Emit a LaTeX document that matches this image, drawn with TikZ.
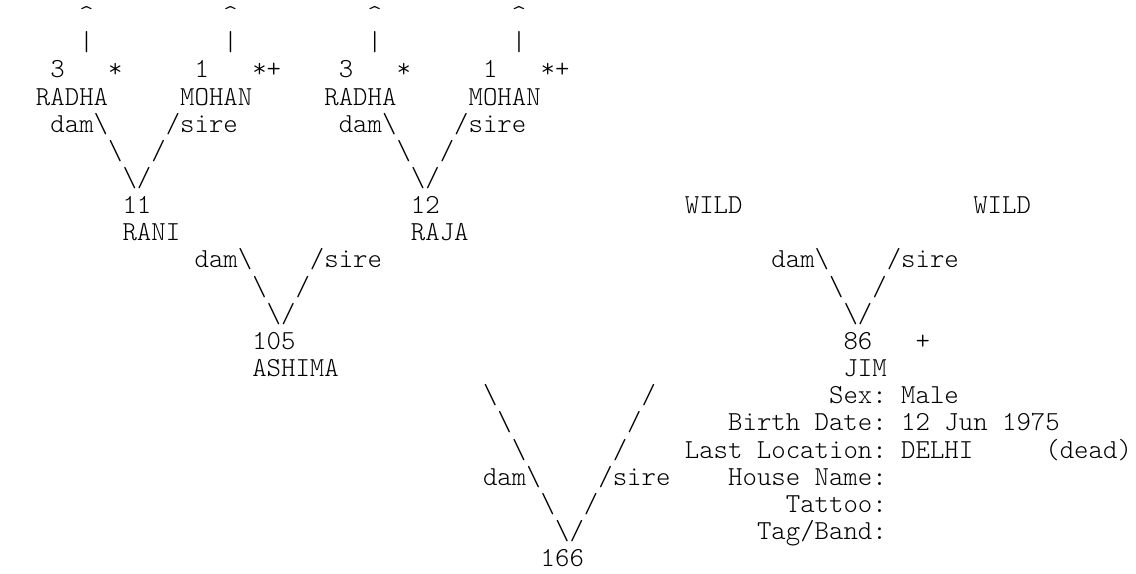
\documentclass[tikz,border=0pt]{standalone}
\usepackage{fontspec}
\newfontfamily\asciifont{lmmonolt10-regular.otf}
\newcommand\tcell[4]{\node[txt] (#1) at ({36+(#2)*14.42},{23.6+(#3)*27.15}) {#4};}
\newcommand\bs{\textbackslash}
\begin{document}
\begin{tikzpicture}[x=0.75pt,y=-0.75pt,
  txt/.style={inner sep=0pt,outer sep=0pt,anchor=base west,text=black,
    font=\asciifont\fontsize{20.6pt}{24pt}\selectfont}]
\useasboundingbox (0,0) rectangle (1136,574);
% row 0 and 1: arrows to unknown ancestors
\tcell{up1}{3}{0}{\textasciicircum}
\tcell{up2}{13}{0}{\textasciicircum}
\tcell{up3}{23}{0}{\textasciicircum}
\tcell{up4}{33}{0}{\textasciicircum}
\tcell{bar1}{3}{1}{\textbar}
\tcell{bar2}{13}{1}{\textbar}
\tcell{bar3}{23}{1}{\textbar}
\tcell{bar4}{33}{1}{\textbar}
% row 2: ids and markers
\tcell{id3a}{1}{2}{3}
\tcell{st1}{5}{2}{*}
\tcell{id1a}{11}{2}{1}
\tcell{sp1}{15}{2}{*+}
\tcell{id3b}{21}{2}{3}
\tcell{st2}{25}{2}{*}
\tcell{id1b}{31}{2}{1}
\tcell{sp2}{35}{2}{*+}
% row 3: names
\tcell{radha1}{0}{3}{RADHA}
\tcell{mohan1}{10}{3}{MOHAN}
\tcell{radha2}{20}{3}{RADHA}
\tcell{mohan2}{30}{3}{MOHAN}
% rows 4-6
\tcell{dam1}{1}{4}{dam\bs}
\tcell{sire1}{9}{4}{/sire}
\tcell{dam2}{21}{4}{dam\bs}
\tcell{sire2}{29}{4}{/sire}
\tcell{l5a}{5}{5}{\bs}
\tcell{r5a}{8}{5}{/}
\tcell{l5b}{25}{5}{\bs}
\tcell{r5b}{28}{5}{/}
\tcell{v6a}{6}{6}{\bs/}
\tcell{v6b}{26}{6}{\bs/}
% rows 7-8
\tcell{id11}{6}{7}{11}
\tcell{id12}{26}{7}{12}
\tcell{wild1}{45}{7}{WILD}
\tcell{wild2}{65}{7}{WILD}
\tcell{rani}{6}{8}{RANI}
\tcell{raja}{26}{8}{RAJA}
% rows 9-11
\tcell{dam3}{11}{9}{dam\bs}
\tcell{sire3}{19}{9}{/sire}
\tcell{dam4}{51}{9}{dam\bs}
\tcell{sire4}{59}{9}{/sire}
\tcell{l10a}{15}{10}{\bs}
\tcell{r10a}{18}{10}{/}
\tcell{l10b}{55}{10}{\bs}
\tcell{r10b}{58}{10}{/}
\tcell{v11a}{16}{11}{\bs/}
\tcell{v11b}{56}{11}{\bs/}
% rows 12-13
\tcell{id105}{15}{12}{105}
\tcell{id86}{56}{12}{86}
\tcell{pl86}{61}{12}{+}
\tcell{ashima}{15}{13}{ASHIMA}
\tcell{jim}{56}{13}{JIM}
% rows 14-20: final V and details
\tcell{l14}{31}{14}{\bs}
\tcell{r14}{42}{14}{/}
\tcell{sexk}{55}{14}{Sex:}
\tcell{sexv}{60}{14}{Male}
\tcell{l15}{32}{15}{\bs}
\tcell{r15}{41}{15}{/}
\tcell{bdk}{48}{15}{Birth Date:}
\tcell{bdv}{60}{15}{12 Jun 1975}
\tcell{l16}{33}{16}{\bs}
\tcell{r16}{40}{16}{/}
\tcell{llk}{45}{16}{Last Location:}
\tcell{llv}{60}{16}{DELHI}
\tcell{dead}{70}{16}{(dead)}
\tcell{dam5}{31}{17}{dam\bs}
\tcell{sire5}{39}{17}{/sire}
\tcell{hnk}{48}{17}{House Name:}
\tcell{l18}{35}{18}{\bs}
\tcell{r18}{38}{18}{/}
\tcell{tatk}{52}{18}{Tattoo:}
\tcell{v19}{36}{19}{\bs/}
\tcell{tagk}{50}{19}{Tag/Band:}
\tcell{id166}{35}{20}{166}
\end{tikzpicture}
\end{document}
